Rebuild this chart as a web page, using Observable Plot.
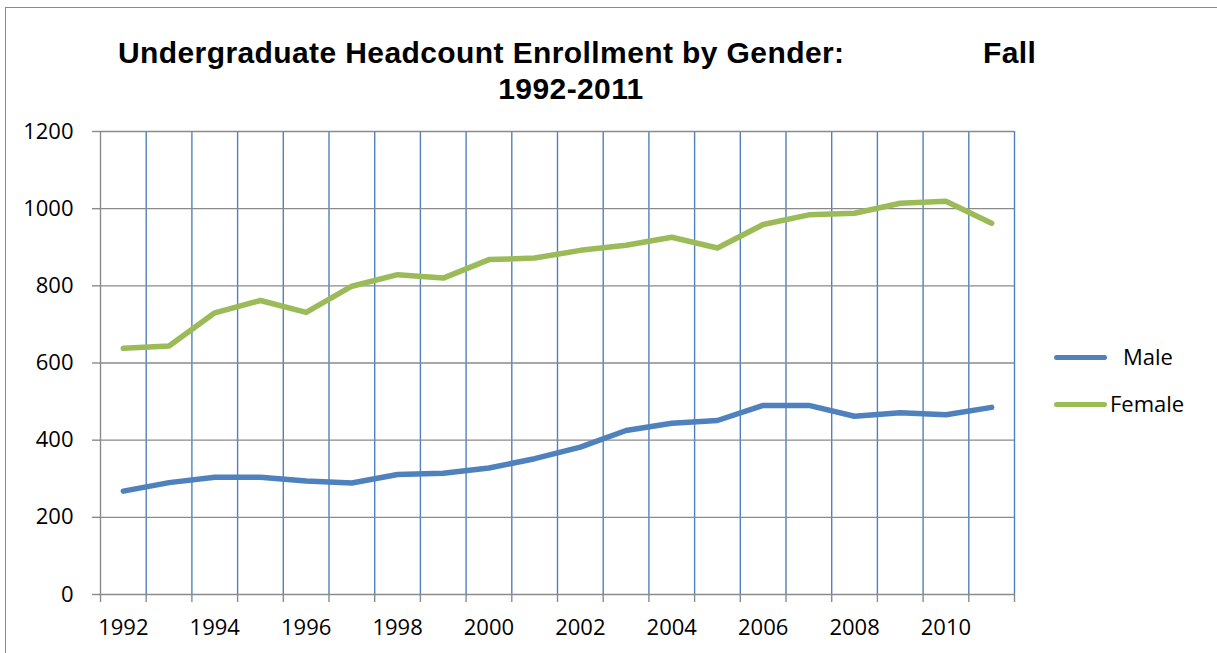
<!DOCTYPE html>
<html>
<head>
<meta charset="utf-8">
<script src="https://cdn.jsdelivr.net/npm/d3@7"></script>
<script src="https://cdn.jsdelivr.net/npm/@observablehq/plot@0.6"></script>
<style>
  html, body { margin: 0; padding: 0; background: #fff; width: 1217px; height: 653px; overflow: hidden; }
  #frame { position: absolute; left: 5px; top: 7px; width: 1300px; height: 800px; border: 1.5px solid #8c8c8c; }
  .t { position: absolute; font-family: "Liberation Sans", Arial, sans-serif; font-weight: bold; font-size: 30px; letter-spacing: 0.4px; color: #000; white-space: nowrap; line-height: 1; }
  #chart { position: absolute; left: 0; top: 110px; }
  .lg { position: absolute; font-family: "Open Sans", sans-serif; font-size: 22px; color: #000; line-height: 1; white-space: nowrap; }
  .sw { position: absolute; height: 5px; border-radius: 3px; width: 53px; left: 1054px; }
</style>
</head>
<body>
<div id="frame"></div>
<div class="t" style="left:118px; top:38px;">Undergraduate Headcount Enrollment by Gender:</div>
<div class="t" style="left:983px; top:38px;">Fall</div>
<div class="t" style="left:571px; top:74px; transform:translateX(-50%);">1992-2011</div>
<div id="chart"></div>
<div class="sw" style="top:355px; background:#4F81BD;"></div>
<div class="lg" style="left:1123px; top:345px;">Male</div>
<div class="sw" style="top:402px; background:#9BBB59;"></div>
<div class="lg" style="left:1110px; top:392px;">Female</div>
<script>
const years = [1992,1993,1994,1995,1996,1997,1998,1999,2000,2001,2002,2003,2004,2005,2006,2007,2008,2009,2010,2011];
const male =   [268,290,304,304,294,289,311,314,328,352,382,425,444,451,490,490,462,471,466,485];
const female = [638,644,730,762,731,799,829,820,868,872,892,905,926,898,959,984,988,1014,1019,962];
const seriesNames = ["Male", "Female"];
const seriesColors = ["#4F81BD", "#9BBB59"];
const yTicks = [0,200,400,600,800,1000,1200];
const xLabelYears = [1992,1994,1996,1998,2000,2002,2004,2006,2008,2010];
const boundaries = [...years.map(y => y - 0.5), years[years.length - 1] + 0.5];

const rows = [
  ...years.map((y, i) => ({year: y, value: male[i], series: seriesNames[0]})),
  ...years.map((y, i) => ({year: y, value: female[i], series: seriesNames[1]}))
];

const x0 = boundaries[0], x1 = boundaries[boundaries.length - 1];

const chart = Plot.plot({
  width: 1217,
  height: 543,
  marginTop: 21,
  marginBottom: 59,
  marginLeft: 100,
  marginRight: 203,
  style: {fontFamily: "'Open Sans', sans-serif", fontSize: "22px", color: "#000", background: "transparent"},
  x: {type: "linear", domain: [x0, x1]},
  y: {domain: [0, 1200]},
  color: {domain: seriesNames, range: seriesColors},
  marks: [
    Plot.ruleX(boundaries.slice(1), {y1: 0, y2: 1200, stroke: "#4F81BD", strokeWidth: 1.4}),
    Plot.ruleY(yTicks, {x1: x0, x2: x1, stroke: "#8a8a8a", strokeWidth: 1.4}),
    Plot.ruleX([x0], {y1: 0, y2: 1200, stroke: "#8a8a8a", strokeWidth: 1.4}),
    Plot.axisY(yTicks, {tickSize: 8, tickPadding: 19, stroke: "#8a8a8a", strokeWidth: 1.4, color: "#000", label: null, tickFormat: d => String(d)}),
    Plot.axisX(boundaries, {tickSize: 8, stroke: "#8a8a8a", strokeWidth: 1.4, tickFormat: () => "", label: null}),
    Plot.axisX(xLabelYears, {tickSize: 0, tickPadding: 25, color: "#000", label: null, tickFormat: d => String(d)}),
    Plot.line(rows, {x: "year", y: "value", stroke: "series", z: "series", strokeWidth: 5.5, strokeLinecap: "round", strokeLinejoin: "round"})
  ]
});
document.getElementById("chart").appendChild(chart);
</script>
</body>
</html>
